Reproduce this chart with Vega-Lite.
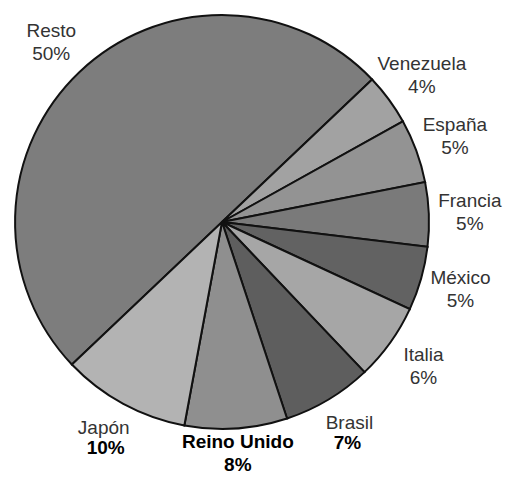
{
  "$schema": "https://vega.github.io/schema/vega-lite/v6.json",
  "width": 444,
  "height": 444,
  "autosize": {"type": "none"},
  "padding": {"left": 0, "top": 0, "right": 65, "bottom": 35},
  "background": "white",
  "config": {"view": {"stroke": null}},
  "data": {
    "values": [
      {"country": "Resto", "value": 0.50, "rank": 1},
      {"country": "Venezuela", "value": 0.04, "rank": 2},
      {"country": "España", "value": 0.05, "rank": 3},
      {"country": "Francia", "value": 0.05, "rank": 4},
      {"country": "México", "value": 0.05, "rank": 5},
      {"country": "Italia", "value": 0.06, "rank": 6},
      {"country": "Brasil", "value": 0.07, "rank": 7},
      {"country": "Reino Unido", "value": 0.08, "rank": 8},
      {"country": "Japón", "value": 0.10, "rank": 9}
    ]
  },
  "encoding": {
    "theta": {"field": "value", "type": "quantitative", "stack": true, "scale": {"domain": [0, 1], "range": [3.953, 10.236]}},
    "order": {"field": "rank", "type": "quantitative"}
  },
  "layer": [
    {
      "mark": {"type": "arc", "outerRadius": 207, "stroke": "#111111", "strokeWidth": 2},
      "encoding": {
        "color": {
          "field": "country", "type": "nominal", "legend": null,
          "scale": {
            "domain": ["Resto", "Venezuela", "España", "Francia", "México", "Italia", "Brasil", "Reino Unido", "Japón"],
            "range": ["#7d7d7d", "#a2a2a2", "#939393", "#7a7a7a", "#626262", "#a6a6a6", "#5e5e5e", "#8f8f8f", "#b3b3b3"]
          }
        }
      }
    },
    {
      "mark": {"type": "text", "radius": 248, "dy": -11.5, "fontSize": 19, "font": "Liberation Sans", "fill": "#333333", "align": "center", "baseline": "middle"},
      "encoding": {
        "text": {"condition": {"test": "datum.country === 'Reino Unido'", "value": ""}, "field": "country", "type": "nominal"}
      }
    },
    {
      "mark": {"type": "text", "radius": 232, "dy": -11.5, "fontSize": 19, "fontWeight": "bold", "font": "Liberation Sans", "fill": "#000000", "align": "center", "baseline": "middle"},
      "encoding": {
        "text": {"condition": {"test": "datum.country === 'Reino Unido'", "field": "country", "type": "nominal"}, "value": ""}
      }
    },
    {
      "mark": {"type": "text", "radius": 248, "dy": 11.5, "fontSize": 19, "font": "Liberation Sans", "fill": "#333333", "align": "center", "baseline": "middle"},
      "encoding": {
        "text": {"condition": {"test": "indexof(['Japón','Reino Unido','Brasil'], datum.country) >= 0", "value": ""}, "field": "value", "type": "quantitative", "format": ".0%"}
      }
    },
    {
      "mark": {"type": "text", "radius": 244, "dy": 11.5, "fontSize": 19, "fontWeight": "bold", "font": "Liberation Sans", "fill": "#000000", "align": "center", "baseline": "middle"},
      "encoding": {
        "text": {"condition": {"test": "indexof(['Japón','Brasil'], datum.country) >= 0", "field": "value", "type": "quantitative", "format": ".0%"}, "value": ""}
      }
    },
    {
      "mark": {"type": "text", "radius": 232, "dy": 11.5, "fontSize": 19, "fontWeight": "bold", "font": "Liberation Sans", "fill": "#000000", "align": "center", "baseline": "middle"},
      "encoding": {
        "text": {"condition": {"test": "datum.country === 'Reino Unido'", "field": "value", "type": "quantitative", "format": ".0%"}, "value": ""}
      }
    }
  ]
}
